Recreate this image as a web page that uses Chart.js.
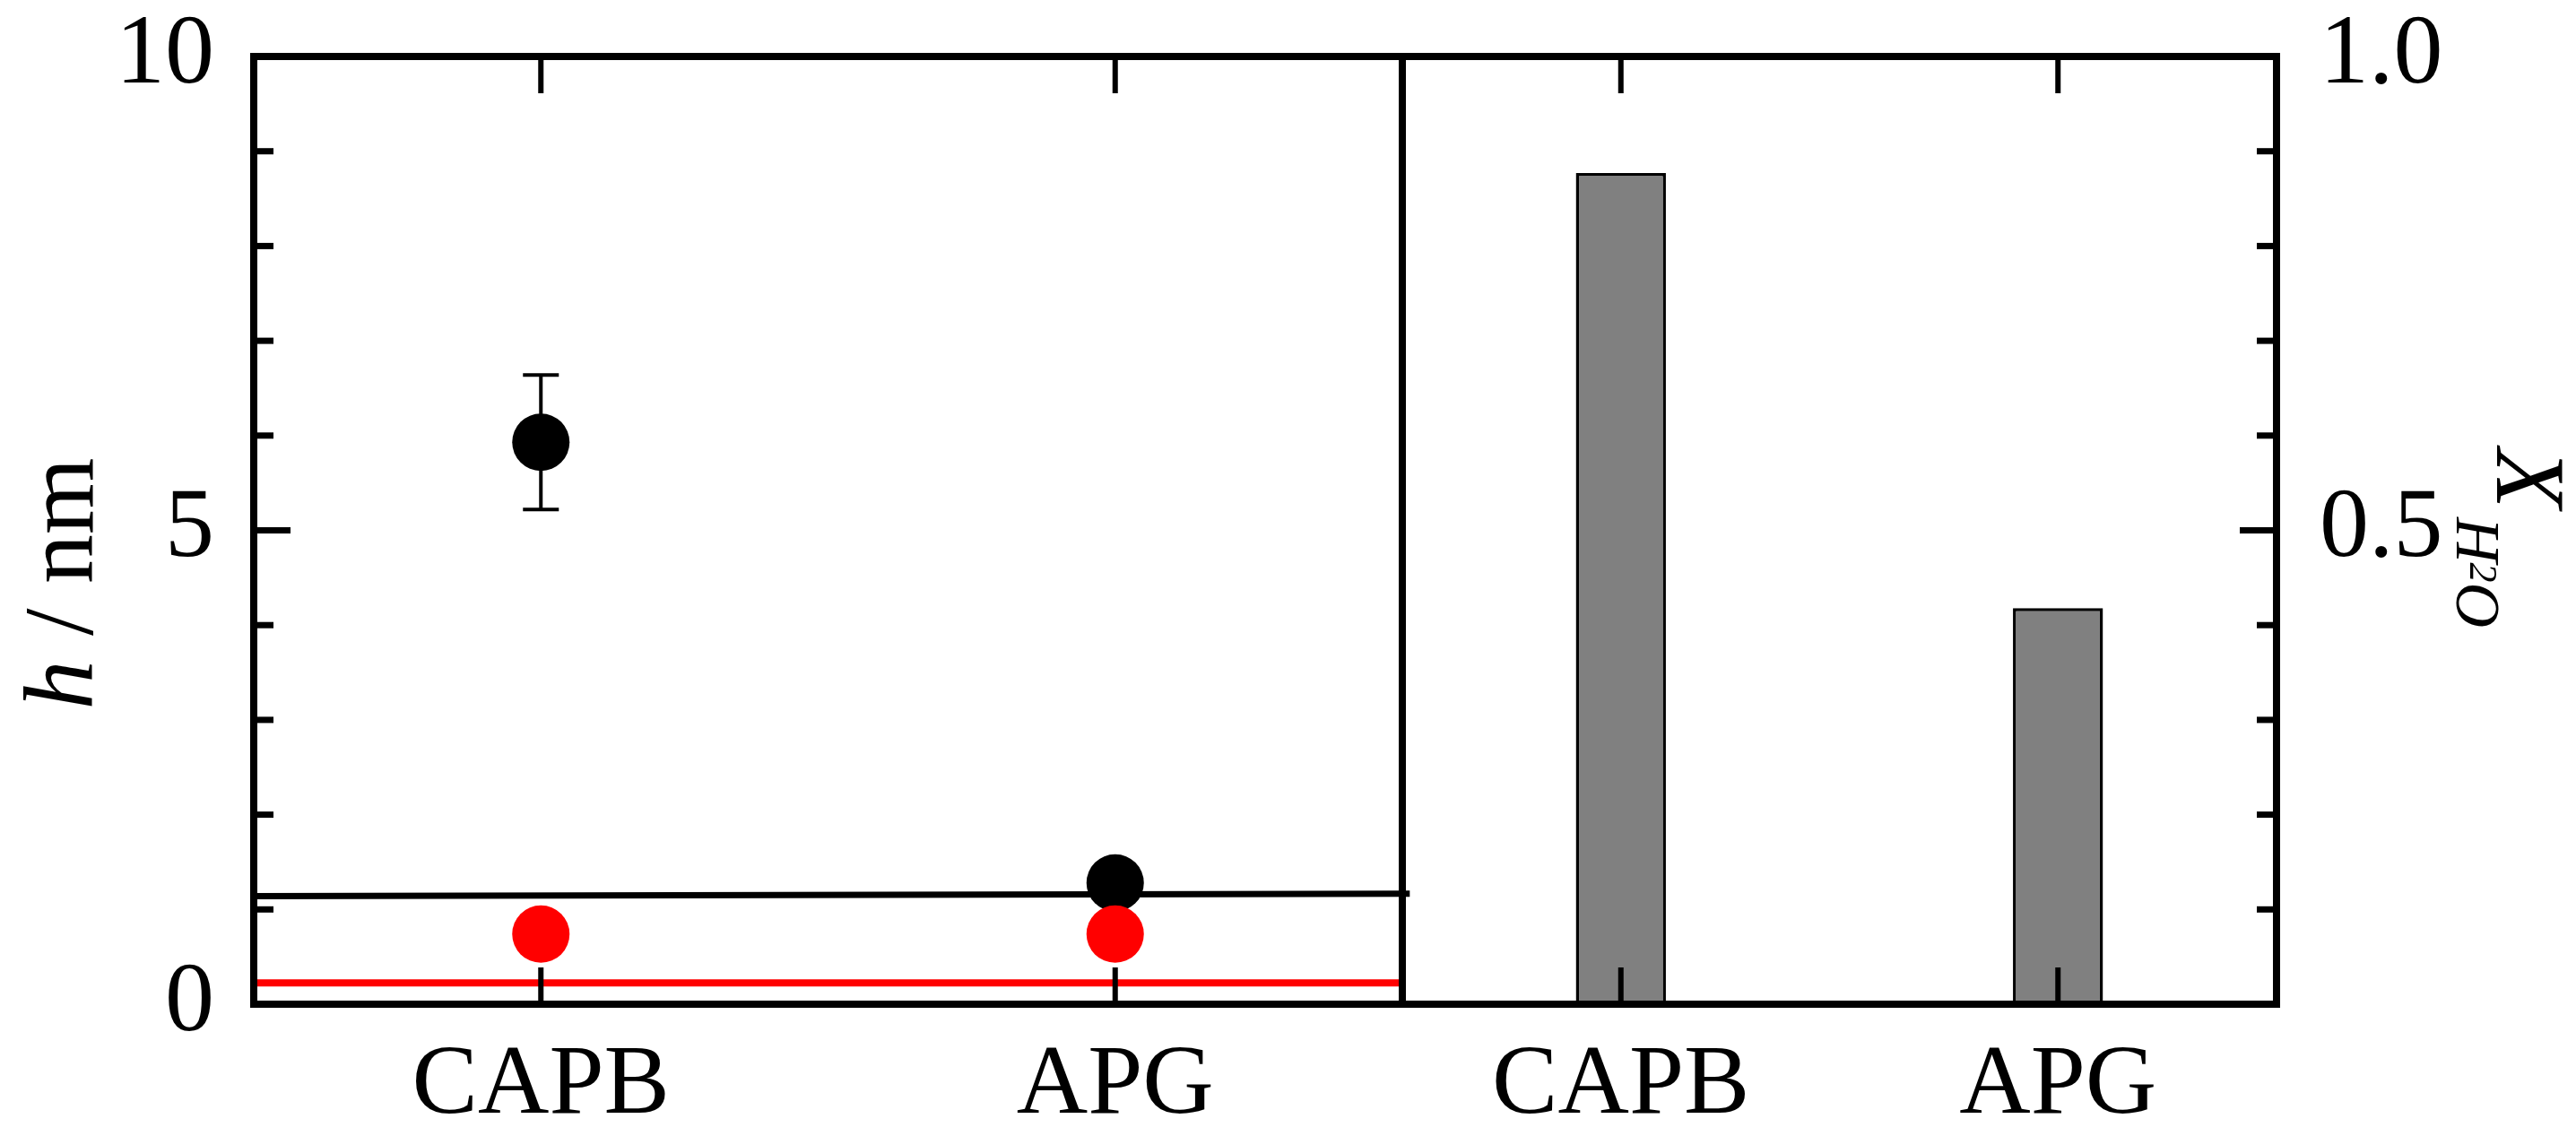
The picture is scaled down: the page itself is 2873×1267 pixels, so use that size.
<!DOCTYPE html>
<html>
<head>
<meta charset="utf-8">
<script src="https://cdn.jsdelivr.net/npm/chart.js@4.4.1/dist/chart.umd.min.js"></script>
<style>
  html, body { margin: 0; padding: 0; background: #ffffff; width: 2873px; height: 1267px; overflow: hidden; }
  #c1 { position: absolute; left: 0; top: 0; }
  #c2 { position: absolute; left: 1500px; top: 0; }
</style>
</head>
<body>
<canvas id="c1" width="1620" height="1267" style="width:1620px;height:1267px"></canvas>
<canvas id="c2" width="1373" height="1267" style="width:1373px;height:1267px"></canvas>
<script>
// ---------- data ----------
const categories = ['CAPB', 'APG'];
const hBlack = [5.93, 1.28];
const hBlackErr = [0.71, 0];
const hRed = [0.74, 0.74];
const blackLineX = [0, 2.013];
const blackLineY = [1.14, 1.165];
const redLineX = [0, 2];
const redLineY = [0.224, 0.224];
const xH2O = [0.877, 0.418];
const hTickValues = [0, 5, 10];
const hTickLabels = ['0', '5', '10'];
const xTickValues = [0.5, 1.0];
const xTickLabels = ['0.5', '1.0'];

const FONT = "'Liberation Serif', 'Times New Roman', serif";

function labelFor(values, labels, v) {
  const i = values.findIndex(t => Math.abs(t - v) < 1e-6);
  return i >= 0 ? labels[i] : '';
}

function line(ctx, x1, y1, x2, y2) {
  ctx.beginPath(); ctx.moveTo(x1, y1); ctx.lineTo(x2, y2); ctx.stroke();
}

function zeroPad(s) { s.paddingTop = 0; s.paddingBottom = 0; s.paddingLeft = 0; s.paddingRight = 0; }

const framePlugin = {
  id: 'frame',
  afterDatasetsDraw(chart, args, opts) {
    const ctx = chart.ctx, a = chart.chartArea;
    ctx.save();
    ctx.strokeStyle = '#000';
    ctx.lineCap = 'butt';
    const ys = chart.scales[opts.yId];
    ctx.lineWidth = 7;
    ys.ticks.forEach(t => {
      const py = ys.getPixelForValue(t.value);
      const len = (t.label !== '' && t.label !== undefined) ? 41 : 22;
      if (opts.ySide === 'left') line(ctx, a.left, py, a.left + len, py);
      else line(ctx, a.right, py, a.right - len, py);
    });
    const xs = chart.scales.x;
    ctx.lineWidth = 6;
    xs.ticks.forEach((t, i) => {
      const px = xs.getPixelForTick(i);
      line(ctx, px, a.top, px, a.top + 41);
      line(ctx, px, a.bottom, px, a.bottom - 41);
    });
    ctx.lineWidth = 8;
    ctx.lineJoin = 'miter';
    ctx.strokeRect(a.left, a.top, a.right - a.left, a.bottom - a.top);
    ctx.restore();
  }
};

const errorBarPlugin = {
  id: 'errbars',
  afterDatasetsDraw(chart) {
    const ctx = chart.ctx, xs = chart.scales.x, ys = chart.scales.y;
    ctx.save();
    ctx.strokeStyle = '#000';
    ctx.lineWidth = 4;
    hBlack.forEach((v, i) => {
      const e = hBlackErr[i];
      if (!e) return;
      const px = xs.getPixelForValue(i + 0.5);
      const pt = ys.getPixelForValue(v + e);
      const pb = ys.getPixelForValue(v - e);
      line(ctx, px, pt, px, pb);
      line(ctx, px - 20, pt, px + 20, pt);
      line(ctx, px - 20, pb, px + 20, pb);
    });
    ctx.restore();
  }
};

const leftTitlePlugin = {
  id: 'leftTitle',
  afterDraw(chart) {
    const ctx = chart.ctx;
    ctx.save();
    ctx.fillStyle = '#000';
    ctx.translate(103, 651);
    ctx.rotate(-Math.PI / 2);
    ctx.textBaseline = 'alphabetic';
    ctx.textAlign = 'left';
    const fItal = 'italic 110px ' + FONT;
    const fReg = '110px ' + FONT;
    ctx.font = fItal; const w1 = ctx.measureText('h').width;
    ctx.font = fReg; const w2 = ctx.measureText(' / nm').width;
    let x = -(w1 + w2) / 2;
    ctx.font = fItal; ctx.fillText('h', x, 0);
    ctx.font = fReg; ctx.fillText(' / nm', x + w1, 0);
    ctx.restore();
  }
};

const rightTitlePlugin = {
  id: 'rightTitle',
  afterDraw(chart) {
    const ctx = chart.ctx;
    ctx.save();
    ctx.fillStyle = '#000';
    ctx.translate(1285, 500);
    ctx.rotate(Math.PI / 2);
    ctx.textBaseline = 'alphabetic';
    ctx.textAlign = 'left';
    ctx.font = 'italic 110px ' + FONT;
    ctx.fillText('X', 0, 0);
    let x = 77;
    ctx.font = 'italic 70px ' + FONT;
    ctx.fillText('H', x, 45);
    x += ctx.measureText('H').width;
    ctx.font = 'italic 44px ' + FONT;
    ctx.fillText('2', x, 30);
    x += ctx.measureText('2').width;
    ctx.font = 'italic 70px ' + FONT;
    ctx.fillText('O', x, 45);
    ctx.restore();
  }
};

function build() {
  Chart.defaults.font.family = FONT;
  Chart.defaults.color = '#000';

  // ---------- left panel: h / nm ----------
  new Chart(document.getElementById('c1'), {
    type: 'scatter',
    data: {
      datasets: [
        { data: hRed.map((v, i) => ({ x: i + 0.5, y: v })), backgroundColor: '#ff0000', borderWidth: 0, pointRadius: 32 },
        { data: hBlack.map((v, i) => ({ x: i + 0.5, y: v })), backgroundColor: '#000000', borderWidth: 0, pointRadius: 32 },
        { type: 'line', data: blackLineX.map((x, i) => ({ x: x, y: blackLineY[i] })), borderColor: '#000000', borderWidth: 7, pointRadius: 0, fill: false, clip: false },
        { type: 'line', data: redLineX.map((x, i) => ({ x: x, y: redLineY[i] })), borderColor: '#ff0000', borderWidth: 8, pointRadius: 0, fill: false, clip: false }
      ]
    },
    options: {
      responsive: false, devicePixelRatio: 1, animation: false,
      layout: { padding: { top: 63, right: 56, left: 0, bottom: 0 } },
      plugins: { legend: { display: false }, tooltip: { enabled: false },
        frame: { yId: 'y', ySide: 'left' } },
      scales: {
        x: {
          type: 'linear', min: 0, max: 2,
          grid: { display: false, drawTicks: false }, border: { display: false },
          afterBuildTicks: s => { s.ticks = categories.map((c, i) => ({ value: i + 0.5 })); },
          afterFit: s => { s.height = 147; zeroPad(s); },
          ticks: { font: { size: 110, lineHeight: 1.0 }, padding: 37, maxRotation: 0, autoSkip: false,
            callback: v => categories[Math.round(v - 0.5)] }
        },
        y: {
          type: 'linear', min: 0, max: 10,
          grid: { display: false, drawTicks: false }, border: { display: false },
          afterFit: s => { s.width = 283; zeroPad(s); },
          ticks: { stepSize: 1, autoSkip: false, font: { size: 110, lineHeight: 1.0 }, padding: 44,
            callback: v => labelFor(hTickValues, hTickLabels, v) }
        }
      }
    },
    plugins: [framePlugin, errorBarPlugin, leftTitlePlugin]
  });

  // ---------- right panel: X_H2O ----------
  new Chart(document.getElementById('c2'), {
    type: 'bar',
    data: {
      labels: categories,
      datasets: [
        { data: xH2O, yAxisID: 'y', backgroundColor: '#808080', borderColor: '#000000', borderWidth: 3.5,
          barPercentage: 0.206, categoryPercentage: 1.0 }
      ]
    },
    options: {
      responsive: false, devicePixelRatio: 1, animation: false,
      layout: { padding: { top: 63, right: 0, left: 64, bottom: 0 } },
      plugins: { legend: { display: false }, tooltip: { enabled: false },
        frame: { yId: 'y', ySide: 'right' } },
      scales: {
        x: {
          type: 'category',
          grid: { display: false, drawTicks: false }, border: { display: false },
          afterFit: s => { s.height = 147; zeroPad(s); },
          ticks: { font: { size: 110, lineHeight: 1.0 }, padding: 37, maxRotation: 0, autoSkip: false }
        },
        y: {
          type: 'linear', position: 'right', min: 0, max: 1,
          grid: { display: false, drawTicks: false }, border: { display: false },
          afterFit: s => { s.width = 334; zeroPad(s); },
          ticks: { stepSize: 0.1, autoSkip: false, font: { size: 110, lineHeight: 1.0 }, padding: 48,
            callback: v => labelFor(xTickValues, xTickLabels, v) }
        }
      }
    },
    plugins: [framePlugin, rightTitlePlugin]
  });
}

const fontLoads = [
  document.fonts.load("110px 'Liberation Serif'"),
  document.fonts.load("italic 110px 'Liberation Serif'")
];
Promise.all(fontLoads).then(build, build);
</script>
</body>
</html>
